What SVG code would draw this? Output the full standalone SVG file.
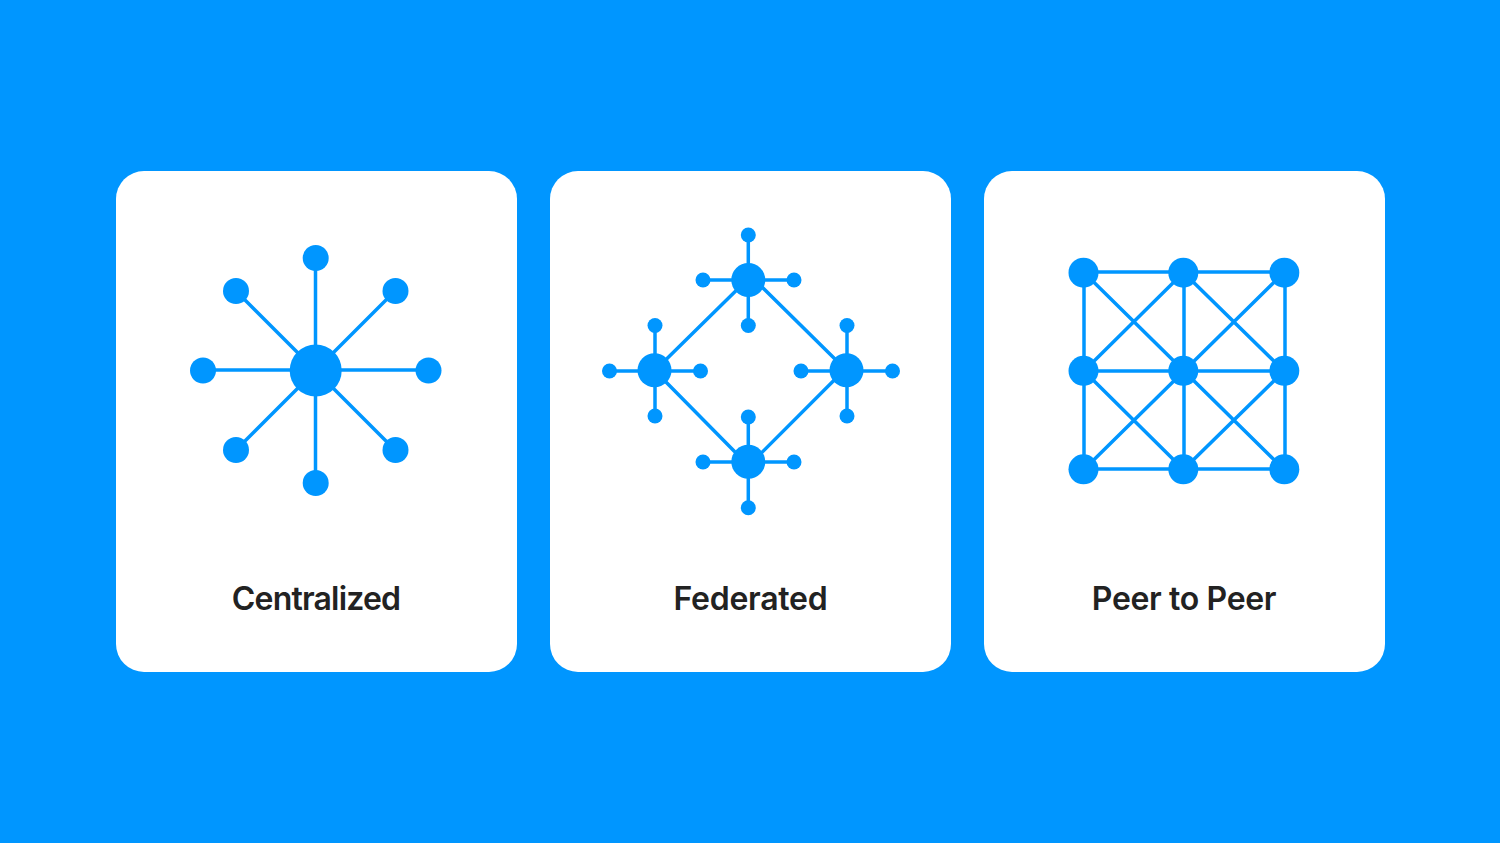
<svg xmlns="http://www.w3.org/2000/svg" width="1500" height="843" viewBox="0 0 1500 843">
<style>
.card{fill:#fff}
.n{fill:#0096ff}
.c{stroke:#0096ff;stroke-width:3.500;fill:none}
.t{font-family:"Inter","Liberation Sans",sans-serif;font-size:32px;font-weight:600;fill:#222;text-anchor:middle}
</style>
<rect width="1500" height="843" fill="#0096ff"/>
<rect class="card" x="116" y="171" width="401" height="501" rx="28"/>
<rect class="card" x="550" y="171" width="401" height="501" rx="28"/>
<rect class="card" x="984" y="171" width="401" height="501" rx="28"/>
<g id="connectors" class="c">
<path d="M315.500 258V483M203 370H429M236 291L395 450M395 291L236 450"/>
<path d="M740 286.800L663 362.500M759 284L838 362M663 379L738 455M758.700 455.700L837.300 377M748.300 235V325M703 280H794M748.300 417V508M703 462H794M655 325V416M610 371H700M847 325V416M801 371H892"/>
<path d="M1084 272H1285V469H1084ZM1084 371H1285M1184 272V469M1084 272.500L1284 469.500M1284 272.500L1084 469.500M1183.500 272.500L1084 371L1183.500 469.500L1284 371Z"/>
</g>
<g id="central-hub" class="n"><circle cx="315.700" cy="370.500" r="26"/></g>
<g id="c1" class="n"><circle cx="315.700" cy="258" r="13"/></g>
<g id="c2" class="n"><circle cx="395.500" cy="291" r="13"/></g>
<g id="c3" class="n"><circle cx="428.500" cy="370.500" r="13"/></g>
<g id="c4" class="n"><circle cx="395.500" cy="450" r="13"/></g>
<g id="c5" class="n"><circle cx="315.700" cy="483" r="13"/></g>
<g id="c6" class="n"><circle cx="236" cy="450" r="13"/></g>
<g id="c7" class="n"><circle cx="203" cy="370.500" r="13"/></g>
<g id="c8" class="n"><circle cx="236" cy="291" r="13"/></g>
<g id="fed-top" class="n"><circle cx="748.300" cy="280" r="17"/><circle cx="748.300" cy="235" r="7.500"/><circle cx="703" cy="280" r="7.500"/><circle cx="794" cy="280" r="7.500"/><circle cx="748.300" cy="325.500" r="7.500"/></g>
<g id="fed-left" class="n"><circle cx="654.500" cy="370.300" r="17"/><circle cx="655" cy="325.500" r="7.500"/><circle cx="609.500" cy="371" r="7.500"/><circle cx="700.500" cy="371" r="7.500"/><circle cx="655" cy="416" r="7.500"/></g>
<g id="fed-right" class="n"><circle cx="846.500" cy="370.300" r="17"/><circle cx="847" cy="325.500" r="7.500"/><circle cx="801" cy="371" r="7.500"/><circle cx="892.500" cy="371" r="7.500"/><circle cx="847" cy="416" r="7.500"/></g>
<g id="fed-bottom" class="n"><circle cx="748.300" cy="461.700" r="17"/><circle cx="748.300" cy="417" r="7.500"/><circle cx="703" cy="462" r="7.500"/><circle cx="794" cy="462" r="7.500"/><circle cx="748.300" cy="507.700" r="7.500"/></g>
<g id="p1" class="n"><circle cx="1083.500" cy="272.700" r="15"/></g>
<g id="p2" class="n"><circle cx="1183.300" cy="272.700" r="15"/></g>
<g id="p3" class="n"><circle cx="1284.300" cy="272.700" r="15"/></g>
<g id="p4" class="n"><circle cx="1083.500" cy="370.800" r="15"/></g>
<g id="p5" class="n"><circle cx="1183.300" cy="370.800" r="15"/></g>
<g id="p6" class="n"><circle cx="1284.300" cy="370.800" r="15"/></g>
<g id="p7" class="n"><circle cx="1083.500" cy="469.300" r="15"/></g>
<g id="p8" class="n"><circle cx="1183.300" cy="469.300" r="15"/></g>
<g id="p9" class="n"><circle cx="1284.300" cy="469.300" r="15"/></g>
<text class="t" x="316" y="610" letter-spacing="-0.800">Centralized</text>
<text class="t" x="750.500" y="610" letter-spacing="-0.270">Federated</text>
<text class="t" x="1184" y="610" letter-spacing="-0.350">Peer to Peer</text>
</svg>
